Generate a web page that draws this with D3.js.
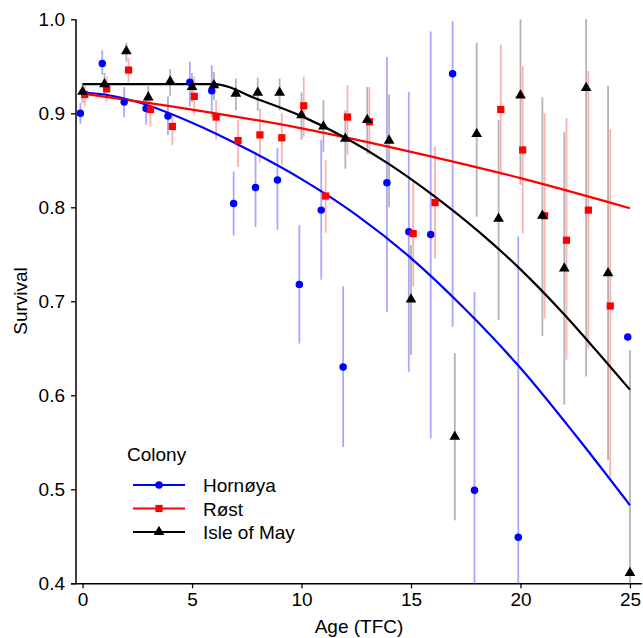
<!DOCTYPE html>
<html><head><meta charset="utf-8">
<script src="https://cdn.jsdelivr.net/npm/d3@7"></script>
<style>
body{margin:0;background:#fff;}
text{font-family:"Liberation Sans",Arial,sans-serif;}
</style></head>
<body><svg id="c" width="643" height="638"></svg>
<script>
const ages = d3.range(0, 26);
const hornoyaSurv = [0.900,0.953,0.912,0.905,0.897,0.933,0.924,0.804,0.821,0.829,0.718,0.797,0.630,null,0.826,0.774,0.771,0.942,0.499,null,0.449,null,null,null,null,0.662];
const hornoyaLo   = [0.889,0.941,0.896,0.888,0.877,0.907,0.896,0.770,0.779,0.776,0.655,0.723,0.545,null,0.689,0.625,0.554,0.673,0.400,null,0.400,null,null,null,null,null];
const hornoyaHi   = [0.911,0.967,0.928,0.918,0.918,0.955,0.951,0.838,0.859,0.863,0.781,0.872,0.716,null,0.960,0.923,0.987,0.998,0.710,null,0.769,null,null,null,null,null];
const rostSurv = [0.920,0.926,0.946,0.904,0.886,0.918,0.896,0.871,0.877,0.874,0.908,0.812,0.896,0.891,null,0.772,0.805,null,null,0.904,0.861,0.791,0.765,0.797,0.695,null];
const rostLo   = [0.907,0.912,0.933,0.886,0.866,0.898,0.872,0.843,0.848,0.845,0.875,0.773,0.856,0.856,null,0.716,0.745,null,null,0.834,0.772,0.682,0.638,0.650,0.513,null];
const rostHi   = [0.932,0.939,0.959,0.918,0.898,0.939,0.914,0.893,0.905,0.900,0.939,0.850,0.930,0.928,null,0.827,0.865,null,null,0.973,0.950,0.900,0.895,0.945,0.883,null];
const maySurv = [0.923,0.931,0.966,0.917,0.934,0.928,0.930,0.921,0.922,0.922,0.898,0.886,0.873,0.893,0.871,0.702,null,0.556,0.878,0.788,0.919,0.791,0.735,0.927,0.730,0.411];
const mayLo   = [0.911,0.920,0.955,0.903,0.918,0.912,0.914,0.903,0.903,0.903,0.872,0.859,0.841,0.857,0.800,0.643,null,0.467,0.790,0.680,0.824,0.663,0.590,0.620,0.531,0.400];
const mayHi   = [0.932,0.943,0.975,0.929,0.947,0.943,0.944,0.937,0.938,0.937,0.922,0.914,0.903,0.928,0.920,0.760,null,0.645,0.975,0.893,1.000,0.917,0.880,1.000,0.929,0.648];

const hornoyaFitAge = [0,1,2.5,5,7.5,10,12.5,15,17.5,20,22.5,25];
const hornoyaFit    = [0.922,0.920,0.912,0.890,0.862,0.830,0.792,0.746,0.691,0.629,0.558,0.483];
const rostFitAge = [0,5,10,15,20,25];
const rostFit    = [0.921,0.904,0.884,0.859,0.831,0.799];
const mayFitAge = [0,6,8,10,12,14,16,18,20,22,24,25];
const mayFit    = [0.931,0.931,0.915,0.897,0.874,0.846,0.813,0.776,0.734,0.686,0.633,0.606];

const xTicks = [0,5,10,15,20,25];
const yTicks = [0.4,0.5,0.6,0.7,0.8,0.9,1.0];
const colonies = ["Hornøya","Røst","Isle of May"];

const svg = d3.select("#c");
const x = d3.scaleLinear().domain([-0.3,25.55]).range([76,642]);
const y = d3.scaleLinear().domain([0.4,1.0]).range([583.3,19.3]);

const series = [
  {name:colonies[0], surv:hornoyaSurv, lo:hornoyaLo, hi:hornoyaHi, fa:hornoyaFitAge, fv:hornoyaFit, col:"#0000ff", bar:"#a8a8ff", dx:-0.1, shape:"circle"},
  {name:colonies[1], surv:rostSurv, lo:rostLo, hi:rostHi, fa:rostFitAge, fv:rostFit, col:"#ff0000", bar:"#ffb0b0", dx:0.1, shape:"square"},
  {name:colonies[2], surv:maySurv, lo:mayLo, hi:mayHi, fa:mayFitAge, fv:mayFit, col:"#000000", bar:"#b4b4b4", dx:0, shape:"triangle"}
];

// axes
const gx = svg.append("g").attr("transform","translate(0,583.3)")
  .call(d3.axisBottom(x).tickValues(xTicks).tickSize(5).tickPadding(4).tickFormat(d3.format("d")));
const gy = svg.append("g").attr("transform","translate(76,0)")
  .call(d3.axisLeft(y).tickValues(yTicks).tickSize(5).tickPadding(6).tickFormat(d3.format(".1f")));
[gx,gy].forEach(g=>{
  g.selectAll("text").attr("font-size",19).attr("fill","#000").style("font-family","Liberation Sans, Arial, sans-serif");
  g.selectAll("line").attr("stroke","#000").attr("stroke-width",1.3);
  g.select(".domain").attr("stroke","#000").attr("stroke-width",1.5);
});
gy.select(".domain").attr("d","M-0,19.3V583.3");
gx.select(".domain").attr("d","M71,0.5H642");

svg.append("text").attr("x",359).attr("y",633).attr("text-anchor","middle").attr("font-size",19).text("Age (TFC)");
svg.append("text").attr("transform","translate(27,301) rotate(-90)").attr("text-anchor","middle").attr("font-size",19).text("Survival");

// error bars
series.forEach(s=>{
  svg.append("g").selectAll("line").data(ages.filter(a=>s.lo[a]!=null && s.hi[a]!=null)).join("line")
    .attr("x1",a=>x(a+s.dx)).attr("x2",a=>x(a+s.dx))
    .attr("y1",a=>y(s.lo[a])).attr("y2",a=>y(s.hi[a]))
    .attr("stroke",s.bar).attr("stroke-width",1.8);
});
// fitted curves
series.forEach(s=>{
  const pts = s.fa.map((a,i)=>[a,s.fv[i]]);
  svg.append("path").datum(pts)
    .attr("d", d3.line().x(d=>x(d[0])).y(d=>y(d[1])).curve(d3.curveMonotoneX))
    .attr("fill","none").attr("stroke",s.col).attr("stroke-width",2.2);
});
// points
const sym = {circle:d3.symbol().type(d3.symbolCircle).size(44),
             square:d3.symbol().type(d3.symbolSquare).size(52),
             triangle:d3.symbol().type(d3.symbolTriangle).size(50)};
series.forEach(s=>{
  svg.append("g").selectAll("path").data(ages.filter(a=>s.surv[a]!=null)).join("path")
    .attr("d",sym[s.shape]())
    .attr("transform",a=>`translate(${x(a+s.dx)},${y(s.surv[a])})`)
    .attr("fill",s.col);
});

// legend
svg.append("text").attr("x",127).attr("y",461).attr("font-size",19).text("Colony");
series.forEach((s,i)=>{
  const ly = 485 + i*23.5;
  svg.append("line").attr("x1",133).attr("x2",185).attr("y1",ly).attr("y2",ly).attr("stroke",s.col).attr("stroke-width",2.2);
  svg.append("path").attr("d",sym[s.shape]()).attr("transform",`translate(159,${ly})`).attr("fill",s.col);
  svg.append("text").attr("x",203).attr("y",ly+7).attr("font-size",19).text(s.name);
});
</script></body></html>
